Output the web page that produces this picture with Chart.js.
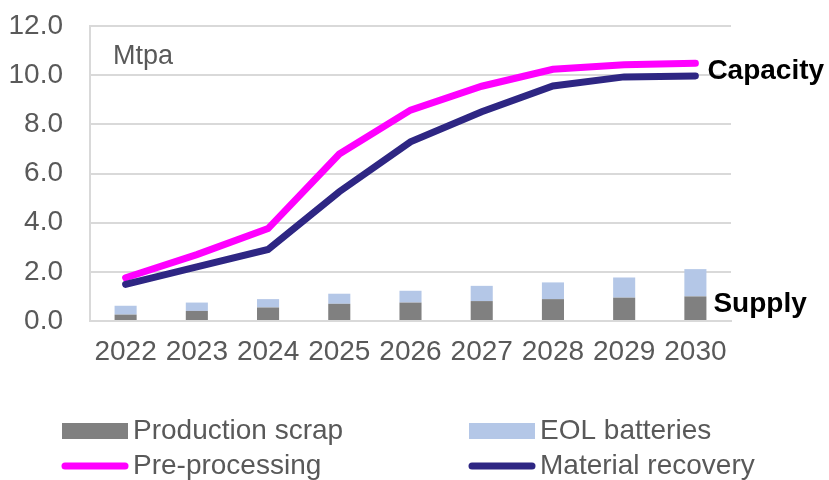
<!DOCTYPE html>
<html>
<head>
<meta charset="utf-8">
<script src="https://cdn.jsdelivr.net/npm/chart.js@4/dist/chart.umd.min.js"></script>
<style>
    html, body { margin: 0; padding: 0; background: #fff; }
    #divForCanvas { width: 829px; height: 480px; }
</style>
</head>
<body>
<div id="divForCanvas"><canvas id="myChart" width="829" height="480"></canvas></div>
<script>
// supply (stacked bars) and capacity (lines), Mtpa
const years = ['2022', '2023', '2024', '2025', '2026', '2027', '2028', '2029', '2030'];
const productionScrap = [0.26, 0.41, 0.55, 0.70, 0.75, 0.81, 0.89, 0.95, 1.00];
const eolBatteries = [0.36, 0.34, 0.34, 0.41, 0.48, 0.62, 0.68, 0.82, 1.11];
const preProcessing = [1.76, 2.70, 3.76, 6.79, 8.58, 9.55, 10.24, 10.42, 10.48];
const materialRecovery = [1.49, 2.20, 2.91, 5.26, 7.29, 8.51, 9.56, 9.93, 9.97];
const yTicks = [0, 2, 4, 6, 8, 10, 12];

const FONT = '"Liberation Sans", Arial, sans-serif';
const GREY_TEXT = '#595959';
const GRID = '#D9D9D9';

// y tick labels (a big tick padding pushes the plot down, so they are drawn here),
// unit label, side labels and the two-column legend
const annotations = {
    id: 'annotations',
    afterDraw(chart) {
        const ctx = chart.ctx;
        const x = chart.scales.x;
        const y = chart.scales.y;
        const last = years.length - 1;
        ctx.save();

        ctx.font = '28px ' + FONT;
        ctx.fillStyle = GREY_TEXT;
        ctx.textAlign = 'right';
        ctx.textBaseline = 'middle';
        y.ticks.forEach(t => {
            ctx.fillText(t.value.toFixed(1), chart.chartArea.left - 27, y.getPixelForValue(t.value));
        });

        ctx.textAlign = 'left';
        ctx.font = '27px ' + FONT;
        ctx.fillText('Mtpa', chart.chartArea.left + 23, 57);

        ctx.font = 'bold 28px ' + FONT;
        ctx.fillStyle = '#000';
        const capY = (y.getPixelForValue(preProcessing[last]) + y.getPixelForValue(materialRecovery[last])) / 2 + 2;
        ctx.fillText('Capacity', x.getPixelForValue(last) + 12, capY);
        ctx.fillText('Supply', x.getPixelForValue(last) + 18, y.getPixelForValue(0.7));

        const slots = [[62, 431], [469, 431], [62, 466], [469, 466]];
        chart.data.datasets.forEach((ds, i) => {
            const [lx, ly] = slots[i];
            if (ds.type === 'bar') {
                ctx.fillStyle = ds.backgroundColor;
                ctx.fillRect(lx, ly - 8, 66, 16);
            } else {
                ctx.strokeStyle = ds.borderColor;
                ctx.lineWidth = 7;
                ctx.lineCap = 'round';
                ctx.beginPath();
                ctx.moveTo(lx + 3, ly);
                ctx.lineTo(lx + 63, ly);
                ctx.stroke();
            }
            ctx.font = '28px ' + FONT;
            ctx.fillStyle = GREY_TEXT;
            ctx.fillText(ds.label, lx + 71, ly);
        });
        ctx.restore();
    }
};

const data = {
    labels: years,
    datasets: [
        {
            type: 'bar',
            label: 'Production scrap',
            data: productionScrap,
            backgroundColor: '#808080',
            stack: 'supply',
            order: 2,
        },
        {
            type: 'bar',
            label: 'EOL batteries',
            data: eolBatteries,
            backgroundColor: '#B4C7E7',
            stack: 'supply',
            order: 2,
        },
        {
            type: 'line',
            label: 'Pre-processing',
            data: preProcessing,
            borderColor: '#FF00FF',
            backgroundColor: '#FF00FF',
            borderWidth: 7,
            pointRadius: 0,
            tension: 0,
            borderCapStyle: 'round',
            stack: 'pre',
            order: 1,
        },
        {
            type: 'line',
            label: 'Material recovery',
            data: materialRecovery,
            borderColor: '#2E2683',
            backgroundColor: '#2E2683',
            borderWidth: 7,
            pointRadius: 0,
            tension: 0,
            borderCapStyle: 'round',
            stack: 'mat',
            order: 0,
        },
    ]
};

const config = {
    data,
    options: {
        responsive: false,
        animation: false,
        barPercentage: 0.31,
        categoryPercentage: 1,
        layout: { autoPadding: false, padding: { top: 26, right: 98, bottom: 109, left: 0 } },
        plugins: {
            legend: { display: false },
            tooltip: { enabled: false },
        },
        scales: {
            x: {
                stacked: true,
                grid: { display: false, drawTicks: false },
                border: { display: true, color: GRID, width: 2 },
                ticks: { color: GREY_TEXT, font: { family: FONT, size: 28 }, padding: 14, maxRotation: 0 },
                afterFit(scale) { scale.height = 50; },
            },
            y: {
                stacked: true,
                min: 0,
                max: 12,
                afterBuildTicks(scale) { scale.ticks = yTicks.map(v => ({ value: v })); },
                grid: { color: GRID, lineWidth: 2, drawTicks: false },
                border: { display: true, color: GRID, width: 2 },
                ticks: { display: false },
                afterFit(scale) { scale.width = 90; },
            }
        }
    },
    plugins: [annotations]
};

var myChart = new Chart(document.getElementById('myChart'), config);
</script>
</body>
</html>
